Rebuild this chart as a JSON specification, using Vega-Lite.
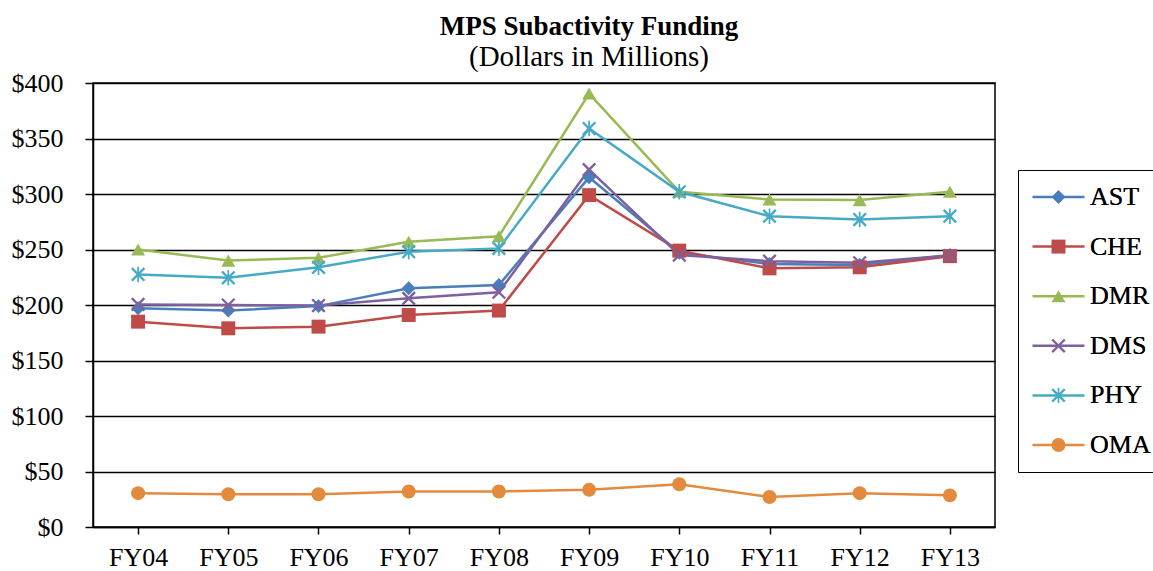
{
  "$schema": "https://vega.github.io/schema/vega-lite/v6.json",
  "width": 902,
  "height": 444,
  "autosize": {"type": "none"},
  "padding": {"left": 93, "top": 83, "right": 158, "bottom": 44},
  "background": "white",
  "title": {
    "text": "MPS Subactivity Funding",
    "subtitle": "(Dollars in Millions)",
    "font": "Liberation Serif",
    "fontSize": 27,
    "fontWeight": "bold",
    "color": "black",
    "subtitleFont": "Liberation Serif",
    "subtitleFontSize": 29,
    "subtitleColor": "black",
    "subtitlePadding": 2,
    "anchor": "middle",
    "dx": 45,
    "offset": -3
  },
  "config": {
    "view": {"stroke": "black", "strokeWidth": 1.5},
    "axis": {
      "labelFont": "Liberation Serif",
      "labelFontSize": 26,
      "labelColor": "black",
      "domainColor": "black",
      "domainWidth": 1.5,
      "tickColor": "black",
      "tickWidth": 1.5
    }
  },
  "data": {
    "values": [
      {"fy": "FY04", "series": "AST", "value": 197},
      {"fy": "FY05", "series": "AST", "value": 195},
      {"fy": "FY06", "series": "AST", "value": 199},
      {"fy": "FY07", "series": "AST", "value": 215},
      {"fy": "FY08", "series": "AST", "value": 218},
      {"fy": "FY09", "series": "AST", "value": 315},
      {"fy": "FY10", "series": "AST", "value": 247},
      {"fy": "FY11", "series": "AST", "value": 237},
      {"fy": "FY12", "series": "AST", "value": 236},
      {"fy": "FY13", "series": "AST", "value": 245},
      {"fy": "FY04", "series": "CHE", "value": 185},
      {"fy": "FY05", "series": "CHE", "value": 179},
      {"fy": "FY06", "series": "CHE", "value": 180.5},
      {"fy": "FY07", "series": "CHE", "value": 191},
      {"fy": "FY08", "series": "CHE", "value": 195},
      {"fy": "FY09", "series": "CHE", "value": 299},
      {"fy": "FY10", "series": "CHE", "value": 249},
      {"fy": "FY11", "series": "CHE", "value": 233},
      {"fy": "FY12", "series": "CHE", "value": 234},
      {"fy": "FY13", "series": "CHE", "value": 244},
      {"fy": "FY04", "series": "DMR", "value": 250},
      {"fy": "FY05", "series": "DMR", "value": 240},
      {"fy": "FY06", "series": "DMR", "value": 242.5},
      {"fy": "FY07", "series": "DMR", "value": 257},
      {"fy": "FY08", "series": "DMR", "value": 262},
      {"fy": "FY09", "series": "DMR", "value": 390.5},
      {"fy": "FY10", "series": "DMR", "value": 302},
      {"fy": "FY11", "series": "DMR", "value": 295},
      {"fy": "FY12", "series": "DMR", "value": 294.5},
      {"fy": "FY13", "series": "DMR", "value": 302},
      {"fy": "FY04", "series": "DMS", "value": 200.5},
      {"fy": "FY05", "series": "DMS", "value": 200},
      {"fy": "FY06", "series": "DMS", "value": 199.5},
      {"fy": "FY07", "series": "DMS", "value": 206},
      {"fy": "FY08", "series": "DMS", "value": 211.5},
      {"fy": "FY09", "series": "DMS", "value": 322},
      {"fy": "FY10", "series": "DMS", "value": 245},
      {"fy": "FY11", "series": "DMS", "value": 239.5},
      {"fy": "FY12", "series": "DMS", "value": 238},
      {"fy": "FY13", "series": "DMS", "value": 244.5},
      {"fy": "FY04", "series": "PHY", "value": 227.5},
      {"fy": "FY05", "series": "PHY", "value": 224.5},
      {"fy": "FY06", "series": "PHY", "value": 234},
      {"fy": "FY07", "series": "PHY", "value": 248},
      {"fy": "FY08", "series": "PHY", "value": 251},
      {"fy": "FY09", "series": "PHY", "value": 359},
      {"fy": "FY10", "series": "PHY", "value": 302},
      {"fy": "FY11", "series": "PHY", "value": 280},
      {"fy": "FY12", "series": "PHY", "value": 277},
      {"fy": "FY13", "series": "PHY", "value": 280},
      {"fy": "FY04", "series": "OMA", "value": 30.5},
      {"fy": "FY05", "series": "OMA", "value": 29.5},
      {"fy": "FY06", "series": "OMA", "value": 29.5},
      {"fy": "FY07", "series": "OMA", "value": 32},
      {"fy": "FY08", "series": "OMA", "value": 32},
      {"fy": "FY09", "series": "OMA", "value": 33.5},
      {"fy": "FY10", "series": "OMA", "value": 38.5},
      {"fy": "FY11", "series": "OMA", "value": 27},
      {"fy": "FY12", "series": "OMA", "value": 30.5},
      {"fy": "FY13", "series": "OMA", "value": 28.5}
    ]
  },
  "encoding": {
    "x": {
      "field": "fy",
      "type": "ordinal",
      "scale": {"type": "point", "padding": 0.5},
      "axis": {
        "title": null,
        "labelAngle": 0,
        "tickSize": 7,
        "labelPadding": 10,
        "grid": false
      }
    },
    "y": {
      "field": "value",
      "type": "quantitative",
      "scale": {"domain": [0, 400], "nice": false},
      "axis": {
        "title": null,
        "values": [0, 50, 100, 150, 200, 250, 300, 350, 400],
        "format": "$d",
        "tickSize": 8,
        "labelPadding": 22,
        "grid": true,
        "gridColor": "black",
        "gridWidth": 1.4,
        "gridOpacity": 1
      }
    }
  },
  "layer": [
    {
      "mark": {"type": "line", "strokeWidth": 2.5},
      "encoding": {
        "stroke": {
          "field": "series",
          "type": "nominal",
          "sort": ["AST", "CHE", "DMR", "DMS", "PHY", "OMA"],
          "scale": {"range": ["#4A7EBB", "#BE4B48", "#98B954", "#7D60A0", "#46AAC5", "#E38A3D"]},
          "legend": {
            "title": null,
            "orient": "none",
            "legendX": 925,
            "legendY": 87,
            "padding": 14,
            "strokeColor": "black",
            "fillColor": "white",
            "symbolType": "M-2.6,0L2.6,0",
            "symbolSize": 400,
            "symbolStrokeWidth": 2.5,
            "symbolOffset": 13.5,
            "labelOffset": 18.5,
            "labelFont": "Liberation Serif",
            "labelFontSize": 26,
            "labelColor": "black",
            "rowPadding": 23.6
          }
        }
      }
    },
    {
      "mark": {"type": "point", "filled": true, "size": 195, "opacity": 1, "strokeWidth": 0},
      "encoding": {
        "fill": {
          "field": "series",
          "type": "nominal",
          "scale": {
            "domain": ["AST", "CHE", "DMR", "DMS", "PHY", "OMA"],
            "range": ["#4A7EBB", "#BE4B48", "#98B954", "#7D60A0", "#46AAC5", "#E38A3D"]
          },
          "legend": {
            "title": null,
            "orient": "none",
            "legendX": 925,
            "legendY": 87,
            "padding": 14,
            "symbolSize": 195,
            "symbolStrokeWidth": 0,
            "symbolOffset": 13.5,
            "labelOffset": 18.5,
            "labelFont": "Liberation Serif",
            "labelFontSize": 26,
            "labelColor": "black",
            "rowPadding": 23.6
          }
        },
        "shape": {
          "field": "series",
          "type": "nominal",
          "scale": {
            "domain": ["AST", "CHE", "DMR", "DMS", "PHY", "OMA"],
            "range": [
              "diamond",
              "square",
              "triangle-up",
              "M-0.78,-1.02L1.02,0.78L0.78,1.02L-1.02,-0.78ZM1.02,-0.78L-0.78,1.02L-1.02,0.78L0.78,-1.02Z",
              "M-0.78,-1.02L1.02,0.78L0.78,1.02L-1.02,-0.78ZM1.02,-0.78L-0.78,1.02L-1.02,0.78L0.78,-1.02ZM-0.12,-1.1L0.12,-1.1L0.12,1.1L-0.12,1.1Z",
              "circle"
            ]
          },
          "legend": {
            "title": null,
            "orient": "none",
            "legendX": 925,
            "legendY": 87,
            "padding": 14,
            "symbolSize": 195,
            "symbolStrokeWidth": 0,
            "symbolOffset": 13.5,
            "labelOffset": 18.5,
            "labelFont": "Liberation Serif",
            "labelFontSize": 26,
            "labelColor": "black",
            "rowPadding": 23.6
          }
        }
      }
    }
  ]
}
